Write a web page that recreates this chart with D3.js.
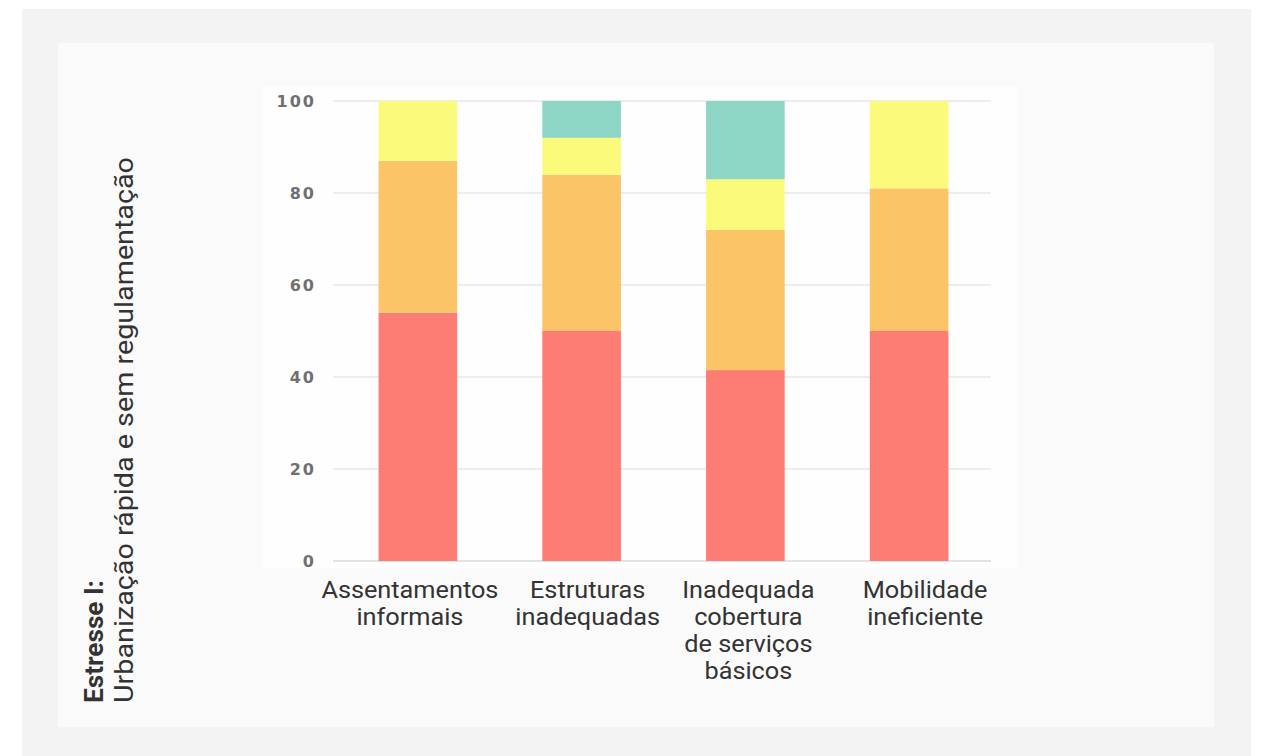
<!DOCTYPE html>
<html>
<head>
<meta charset="utf-8">
<script src="https://cdn.jsdelivr.net/npm/d3@7"></script>
<style>
  body { margin: 0; background: #ffffff; }
  svg { display: block; }
</style>
</head>
<body>
<div class="rep"></div>
<script>
// categories (each label split in lines)
var categories = ["Assentamentos informais", "Estruturas inadequadas",
                  "Inadequada cobertura de serviços básicos", "Mobilidade ineficiente"];
var catLines = [["Assentamentos", "informais"], ["Estruturas", "inadequadas"],
                ["Inadequada", "cobertura", "de serviços", "básicos"], ["Mobilidade", "ineficiente"]];

// series values, bottom to top
var seriesNames = ["vermelho", "laranja", "amarelo", "verde"];
var serRed    = [54, 50, 41.5, 50];
var serOrange = [33, 34, 30.5, 31];
var serYellow = [13, 8, 11, 19];
var serTeal   = [0, 8, 17, 0];
var seriesColors = ["#fd7c74", "#fbc466", "#fcfa7b", "#8dd5c5"];

var yTicks = [0, 20, 40, 60, 80, 100];

// labels in the original are not exactly under the bars
var labelShift = [-8, 6, 3, 16];

var W = 1261, H = 756;
var svg = d3.select(".rep").append("svg")
    .attr("width", W)
    .attr("height", H);

// backgrounds
svg.append("rect").attr("x", 22).attr("y", 9).attr("width", 1229).attr("height", H - 9)
    .style("fill", "#f3f3f3");
svg.append("rect").attr("x", 58).attr("y", 43).attr("width", 1156).attr("height", 684)
    .style("fill", "#fafafa");
svg.append("rect").attr("x", 262).attr("y", 86).attr("width", 755).attr("height", 482)
    .style("fill", "#fefefe");

var table = categories.map(function(c, i) {
    return {cat: c, vermelho: serRed[i], laranja: serOrange[i], amarelo: serYellow[i], verde: serTeal[i]};
});
var stacked = d3.stack().keys(seriesNames)(table);

var x = d3.scaleBand().domain(categories).range([336, 991]).paddingInner(0.52).paddingOuter(0.26);
var y = d3.scaleLinear().domain([0, 100]).range([561, 101]);

// grid
svg.append("g").selectAll("line").data(yTicks).enter().append("line")
    .attr("x1", 333).attr("x2", 991)
    .attr("y1", function(d) { return y(d); })
    .attr("y2", function(d) { return y(d); })
    .style("stroke", function(d) { return d == 0 ? "#e2e2e2" : "#ededed"; })
    .style("stroke-width", "2px");

// y tick labels
svg.append("g").selectAll("text").data(yTicks).enter().append("text")
    .text(function(d) { return d; })
    .attr("x", 316)
    .attr("y", function(d) { return y(d) + 6; })
    .attr("text-anchor", "end")
    .style("font-family", "'DejaVu Sans', sans-serif")
    .style("font-size", "16px")
    .style("font-weight", "bold")
    .style("letter-spacing", "2px")
    .style("fill", "#707070");

// bars
svg.append("g").selectAll("g").data(stacked).enter().append("g")
    .style("fill", function(d, i) { return seriesColors[i]; })
    .selectAll("rect").data(function(d) { return d; }).enter().append("rect")
    .attr("x", function(d) { return x(d.data.cat); })
    .attr("width", x.bandwidth())
    .attr("y", function(d) { return y(d[1]); })
    .attr("height", function(d) { return y(d[0]) - y(d[1]); });

// category labels (font is a bit wider than Roboto, so stretch it)
var lab = svg.append("g").selectAll("text").data(categories).enter().append("text")
    .attr("text-anchor", "middle")
    .attr("transform", function(d, i) {
        return "translate(" + (x(d) + x.bandwidth() / 2 + labelShift[i]) + ",598) scale(1.1,1)"; })
    .style("font-family", "Roboto, sans-serif")
    .style("font-size", "23px")
    .style("fill", "#333333");
lab.selectAll("tspan").data(function(d, i) { return catLines[i]; }).enter().append("tspan")
    .attr("x", 0)
    .attr("y", function(d, j) { return j * 27; })
    .text(function(d) { return d; });

// rotated axis title
var t = svg.append("text")
    .attr("transform", "translate(0,703) rotate(-90)")
    .style("font-family", "Roboto, sans-serif")
    .style("font-size", "25px")
    .style("fill", "#333333");
t.append("tspan").attr("x", 0).attr("y", 103).style("font-weight", "bold")
    .attr("textLength", 123).attr("lengthAdjust", "spacingAndGlyphs").text("Estresse I:");
t.append("tspan").attr("x", 0).attr("y", 133)
    .attr("textLength", 546).attr("lengthAdjust", "spacingAndGlyphs").text("Urbanização rápida e sem regulamentação");
</script>
</body>
</html>
